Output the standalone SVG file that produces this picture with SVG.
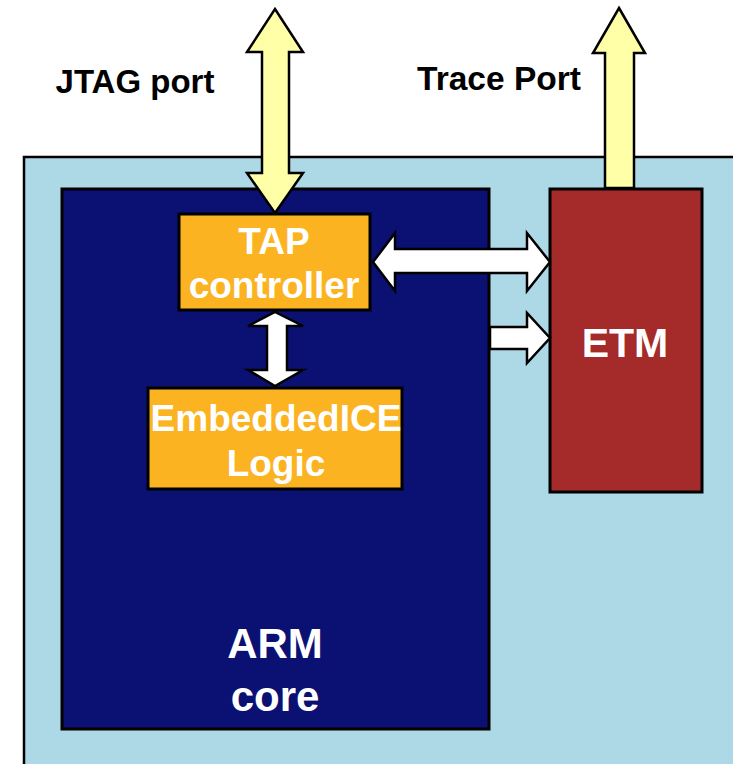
<svg xmlns="http://www.w3.org/2000/svg" width="733" height="764" viewBox="0 0 733 764">
<style>
.lbl{font-family:"Liberation Sans",Arial,sans-serif;font-weight:bold;text-anchor:middle}
.wt{fill:#ffffff}
.bk{fill:#000000}
.box{stroke:#000;stroke-width:3}
.yarrow{fill:#FFFFA8;stroke:#000;stroke-width:2.5;stroke-linejoin:miter}
.warrow{fill:#ffffff;stroke:#000;stroke-width:2.5;stroke-linejoin:miter}
</style>
<rect width="733" height="764" fill="#ffffff"/>
<g id="chip">
<rect x="24" y="157" width="720" height="620" fill="#ADD8E6" stroke="#000" stroke-width="2.5"/>
</g>
<g id="arm-core">
<rect class="box" x="62" y="189" width="427" height="540" fill="#0A1172"/>
<text class="lbl wt" x="275" y="658" font-size="42">ARM</text>
<text class="lbl wt" x="275" y="711" font-size="42">core</text>
</g>
<g id="etm">
<rect class="box" x="550" y="189" width="152" height="303" fill="#A52A2A"/>
<text class="lbl wt" x="625" y="357" font-size="41">ETM</text>
</g>
<g id="tap">
<rect class="box" x="179" y="214" width="191" height="96" fill="#FBB321"/>
<text class="lbl wt" x="274" y="254" font-size="37">TAP</text>
<text class="lbl wt" x="274" y="298" font-size="37">controller</text>
</g>
<g id="ice">
<rect class="box" x="148" y="388" width="254" height="101" fill="#FBB321"/>
<text class="lbl wt" x="276" y="431" font-size="37">EmbeddedICE</text>
<text class="lbl wt" x="276" y="476" font-size="37">Logic</text>
</g>
<g id="jtag-label">
<text class="lbl bk" x="135" y="93" font-size="33">JTAG port</text>
</g>
<g id="trace-label">
<text class="lbl bk" x="499" y="90" font-size="33.5">Trace Port</text>
</g>
<g id="connectors">
<polygon class="yarrow" points="275,9 303,52 289,52 289,173 303,173 275,213 247,173 262,173 262,52 247,52"/>
<polygon class="yarrow" points="619,8 645,53 634,53 634,188 605,188 605,53 593,53"/>
<polygon class="warrow" points="373,262 395,233 395,249 527,249 527,233 550,262 527,291 527,273 395,273 395,291"/>
<polygon class="warrow" points="490,327 527,327 527,313 550,338 527,363 527,349 490,349"/>
<polygon class="warrow" points="275,312 303,326 287,326 287,370 303,370 275,386 248,370 267,370 267,326 248,326"/>
</g>
</svg>
